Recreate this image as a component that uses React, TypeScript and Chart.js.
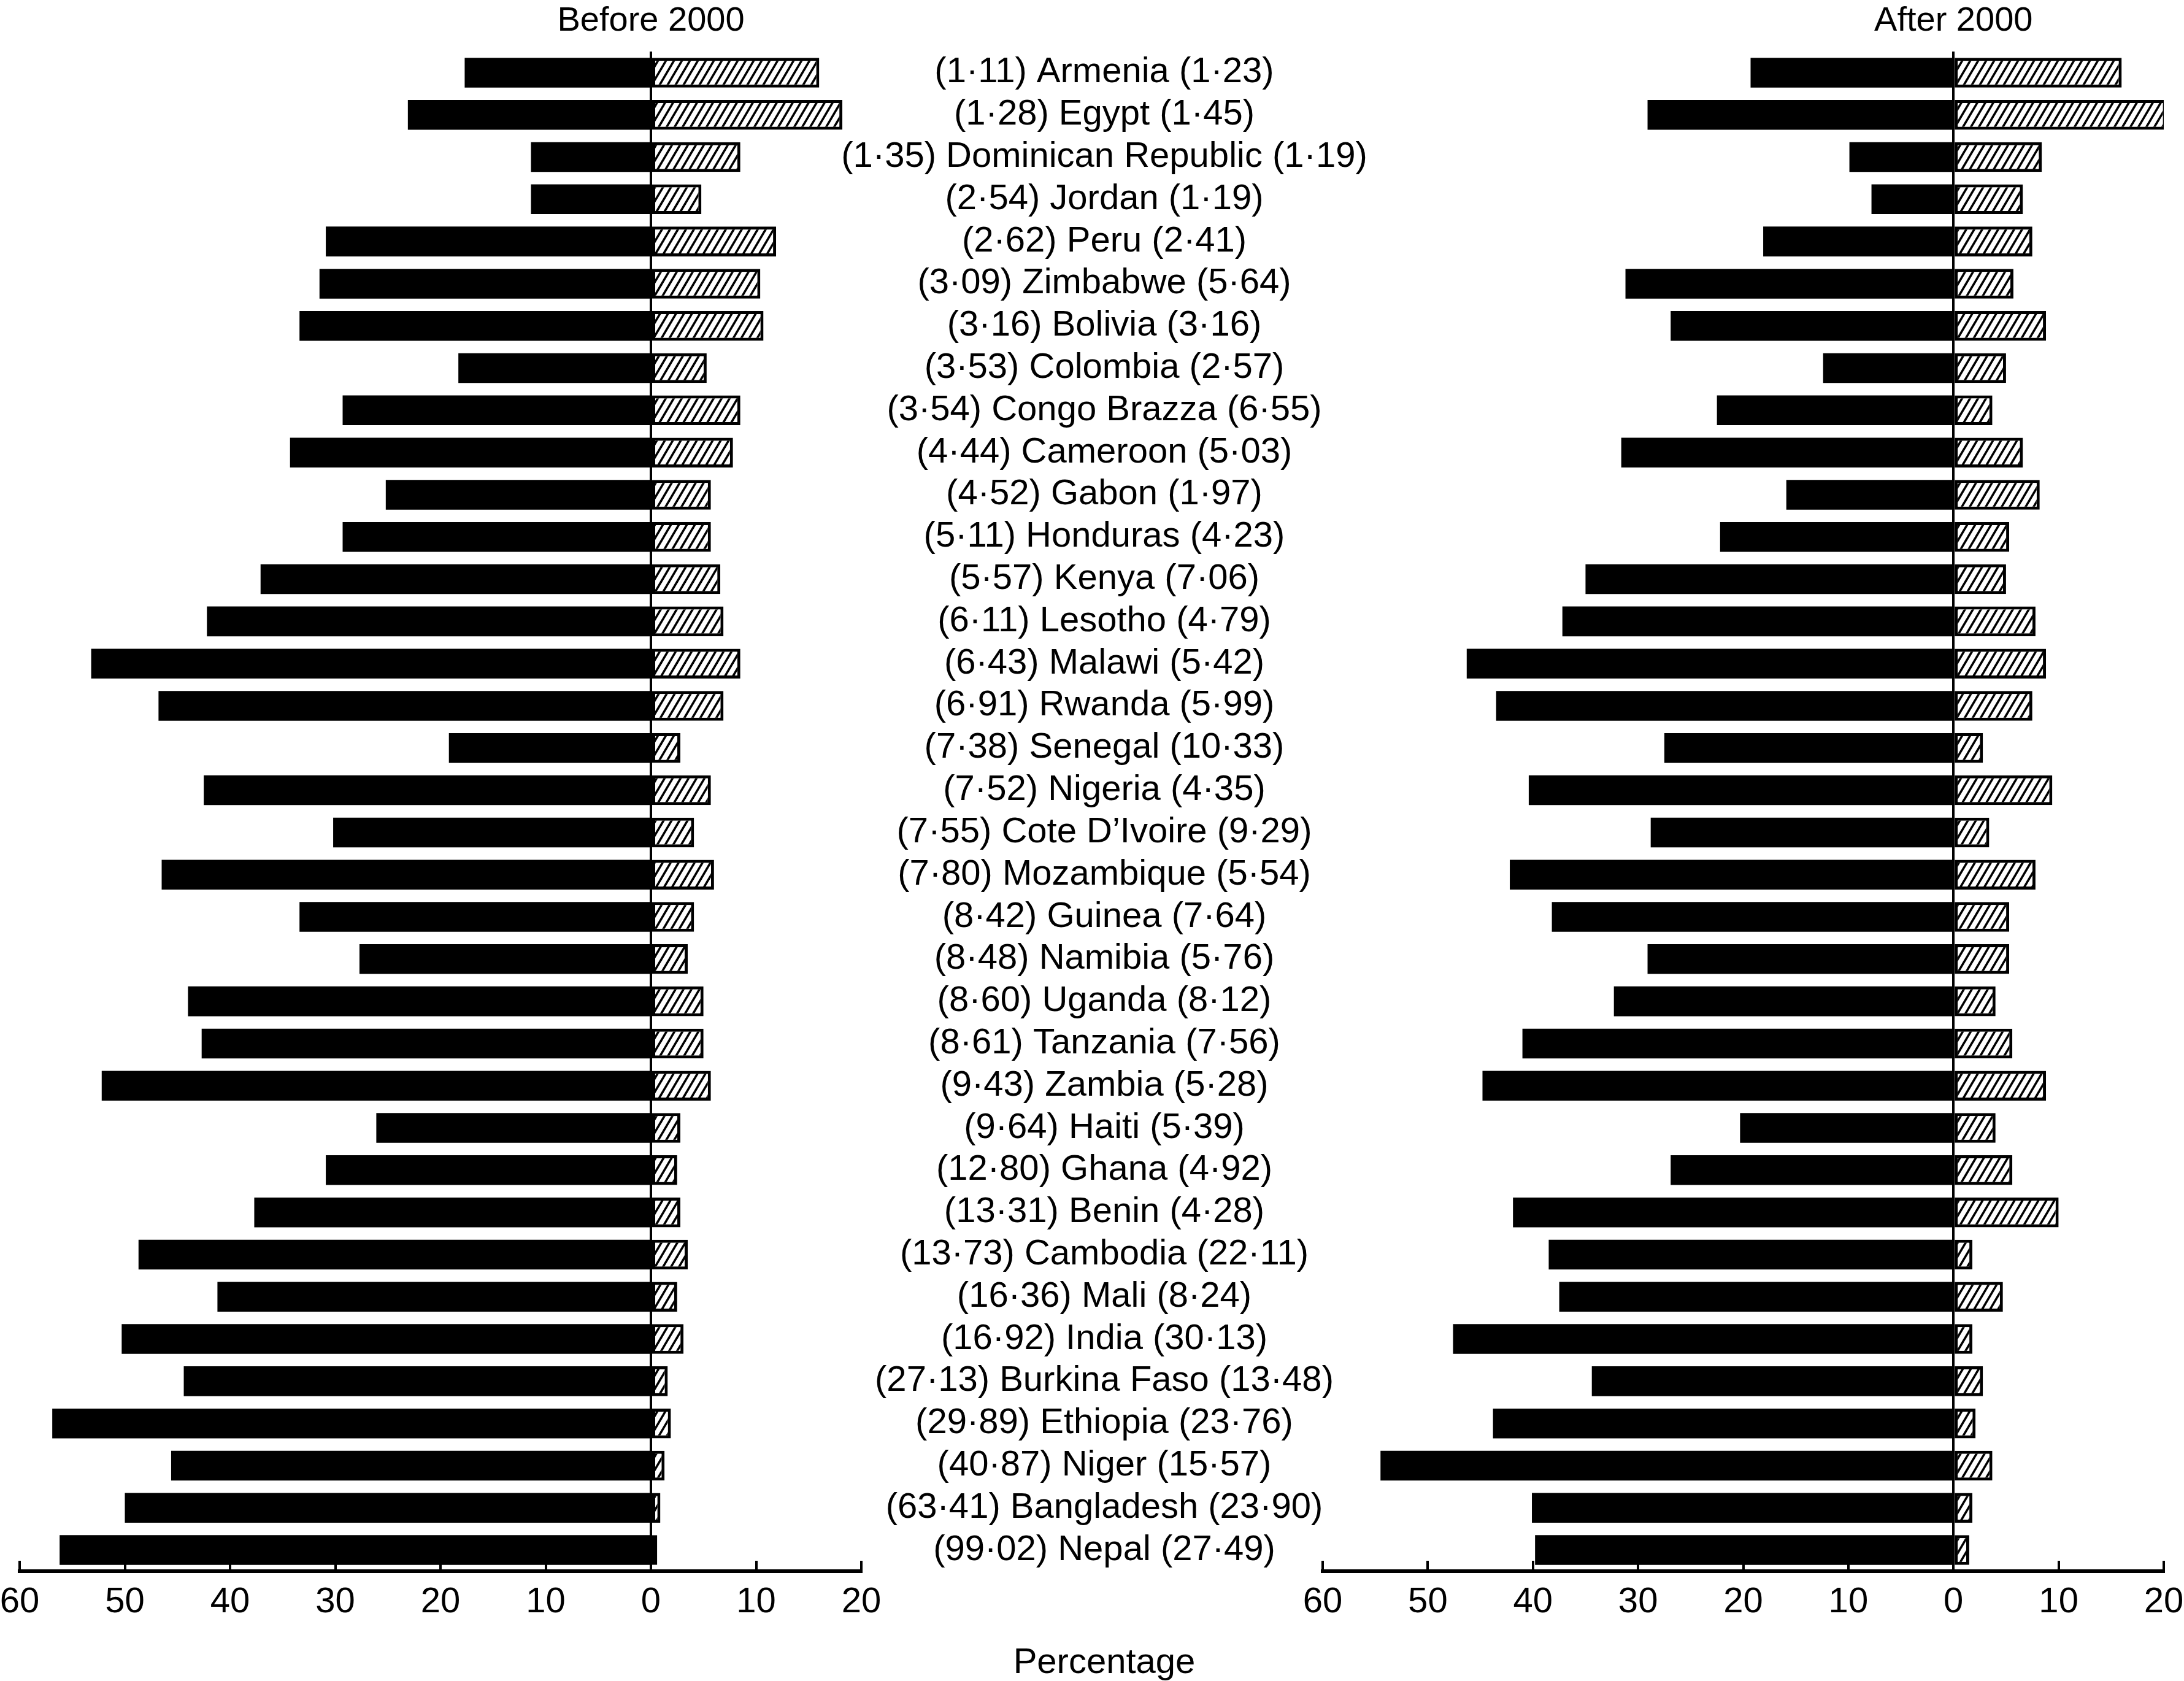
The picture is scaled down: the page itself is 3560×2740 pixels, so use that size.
import React, { useEffect, useRef } from 'react';
import { Chart, registerables } from 'chart.js';

Chart.register(...registerables);

const FONT = '"Liberation Sans", Arial, Helvetica, sans-serif';
const W = 3560;
const H = 2740;
const PLOT_BOTTOM = 2561;

const rowLabels = [
  '(1·11) Armenia (1·23)',
  '(1·28) Egypt (1·45)',
  '(1·35) Dominican Republic (1·19)',
  '(2·54) Jordan (1·19)',
  '(2·62) Peru (2·41)',
  '(3·09) Zimbabwe (5·64)',
  '(3·16) Bolivia (3·16)',
  '(3·53) Colombia (2·57)',
  '(3·54) Congo Brazza (6·55)',
  '(4·44) Cameroon (5·03)',
  '(4·52) Gabon (1·97)',
  '(5·11) Honduras (4·23)',
  '(5·57) Kenya (7·06)',
  '(6·11) Lesotho (4·79)',
  '(6·43) Malawi (5·42)',
  '(6·91) Rwanda (5·99)',
  '(7·38) Senegal (10·33)',
  '(7·52) Nigeria (4·35)',
  '(7·55) Cote D\u2019Ivoire (9·29)',
  '(7·80) Mozambique (5·54)',
  '(8·42) Guinea (7·64)',
  '(8·48) Namibia (5·76)',
  '(8·60) Uganda (8·12)',
  '(8·61) Tanzania (7·56)',
  '(9·43) Zambia (5·28)',
  '(9·64) Haiti (5·39)',
  '(12·80) Ghana (4·92)',
  '(13·31) Benin (4·28)',
  '(13·73) Cambodia (22·11)',
  '(16·36) Mali (8·24)',
  '(16·92) India (30·13)',
  '(27·13) Burkina Faso (13·48)',
  '(29·89) Ethiopia (23·76)',
  '(40·87) Niger (15·57)',
  '(63·41) Bangladesh (23·90)',
  '(99·02) Nepal (27·49)',
];

// Before 2000 — black bars (plotted to the left), hatched bars (to the right)
const beforeBlack = [
  17.7, 23.1, 11.4, 11.4, 30.9, 31.5, 33.4, 18.3, 29.3, 34.3, 25.2, 29.3,
  37.1, 42.2, 53.2, 46.8, 19.2, 42.5, 30.2, 46.5, 33.4, 27.7, 44.0, 42.7,
  52.2, 26.1, 30.9, 37.7, 48.7, 41.2, 50.3, 44.4, 56.9, 45.6, 50.0, 56.2,
];
const beforeHatched = [
  16.0, 18.2, 8.5, 4.8, 11.9, 10.4, 10.7, 5.3, 8.5, 7.8, 5.7, 5.7,
  6.6, 6.9, 8.5, 6.9, 2.8, 5.7, 4.1, 6.0, 4.1, 3.5, 5.0, 5.0,
  5.7, 2.8, 2.5, 2.8, 3.5, 2.5, 3.1, 1.6, 1.9, 1.3, 0.9, 0.6,
];

// After 2000
const afterBlack = [
  19.3, 29.1, 9.9, 7.8, 18.1, 31.2, 26.9, 12.4, 22.5, 31.6, 15.9, 22.2,
  35.0, 37.2, 46.3, 43.5, 27.5, 40.4, 28.8, 42.2, 38.2, 29.1, 32.3, 41.0,
  44.8, 20.3, 26.9, 41.9, 38.5, 37.5, 47.6, 34.4, 43.8, 54.5, 40.1, 39.8,
];
const afterHatched = [
  16.0, 20.2, 8.4, 6.6, 7.5, 5.7, 8.8, 5.0, 3.7, 6.6, 8.2, 5.3,
  5.0, 7.8, 8.8, 7.5, 2.8, 9.4, 3.4, 7.8, 5.3, 5.3, 4.0, 5.6,
  8.8, 4.0, 5.6, 10.0, 1.8, 4.7, 1.8, 2.8, 2.1, 3.7, 1.8, 1.5,
];

const xTickValues = [-60, -50, -40, -30, -20, -10, 0, 10, 20];
const panelTitles = ['Before 2000', 'After 2000'];
const axisTitle = 'Percentage';

function makeHatch(): CanvasPattern | string {
  const w = 13;
  const h = 22;
  const c = document.createElement('canvas');
  c.width = w;
  c.height = h;
  const g = c.getContext('2d');
  if (!g) return '#fff';
  g.fillStyle = '#fff';
  g.fillRect(0, 0, w, h);
  g.strokeStyle = '#000';
  g.lineWidth = 3.6;
  for (let k = -1; k <= 1; k++) {
    g.beginPath();
    g.moveTo(k * w - w, 2 * h);
    g.lineTo(k * w + 2 * w, -h);
    g.stroke();
  }
  return g.createPattern(c, 'repeat') || '#fff';
}

type PanelProps = {
  title: string;
  black: number[];
  hatched: number[];
  left: number;
  width: number;
  padLeft: number;
  padRight: number;
  showLabels?: boolean;
  labelX?: number;
};

function Panel(props: PanelProps) {
  const ref = useRef<HTMLCanvasElement>(null);

  useEffect(() => {
    const canvas = ref.current;
    if (!canvas) return;
    const hatch = makeHatch();

    const decor = {
      id: 'panelDecor',
      afterDatasetsDraw(chart: any) {
        const { ctx, chartArea, scales } = chart;
        const xs = scales.x;
        const ys = scales.y;
        ctx.save();
        // inward tick marks
        ctx.strokeStyle = '#000';
        ctx.lineWidth = 4;
        for (const t of xs.ticks) {
          const px = Math.round(xs.getPixelForValue(t.value));
          ctx.beginPath();
          ctx.moveTo(px, chartArea.bottom + 3);
          ctx.lineTo(px, chartArea.bottom - 17);
          ctx.stroke();
        }
        ctx.fillStyle = '#000';
        ctx.textAlign = 'center';
        ctx.textBaseline = 'alphabetic';
        ctx.font = `56px ${FONT}`;
        ctx.fillText(props.title, xs.getPixelForValue(0), 50);
        if (props.showLabels && props.labelX !== undefined) {
          ctx.font = `58px ${FONT}`;
          ctx.textBaseline = 'middle';
          rowLabels.forEach((lab, i) => {
            ctx.fillText(lab, props.labelX, ys.getPixelForValue(i));
          });
          ctx.textBaseline = 'alphabetic';
          ctx.fillText(axisTitle, props.labelX, 2727);
        }
        ctx.restore();
      },
    };

    const chart = new Chart(canvas, {
      type: 'bar',
      data: {
        labels: rowLabels,
        datasets: [
          {
            label: 'black',
            data: props.black.map((v) => -v),
            backgroundColor: '#000',
            borderWidth: 0,
          },
          {
            label: 'hatched',
            data: props.hatched,
            backgroundColor: hatch as any,
            borderColor: '#000',
            borderWidth: 5,
            borderSkipped: false,
          },
        ],
      },
      options: {
        indexAxis: 'y',
        responsive: false,
        animation: false,
        devicePixelRatio: 1,
        layout: { padding: { left: props.padLeft, right: props.padRight, top: 84, bottom: 0 } },
        datasets: { bar: { barPercentage: 0.705, categoryPercentage: 1 } },
        plugins: {
          legend: { display: false },
          tooltip: { enabled: false },
          title: { display: false },
        },
        scales: {
          x: {
            type: 'linear',
            min: -60,
            max: 20,
            stacked: true,
            afterBuildTicks: (s: any) => {
              s.ticks = xTickValues.map((v) => ({ value: v }));
            },
            afterFit: (s: any) => {
              s.height = H - PLOT_BOTTOM;
              s.paddingLeft = 0;
              s.paddingRight = 0;
            },
            ticks: {
              font: { family: FONT, size: 58 },
              color: '#000',
              padding: 16,
              maxRotation: 0,
              minRotation: 0,
              autoSkip: false,
              callback: (v: any) => String(Math.abs(Number(v))),
            },
            grid: {
              drawTicks: false,
              color: (c: any) => (c.tick && c.tick.value === 0 ? '#000' : 'rgba(0,0,0,0)'),
              lineWidth: 4,
            },
            border: { display: true, color: '#000', width: 6 },
          },
          y: { type: 'category', stacked: true, display: false, offset: true },
        },
      } as any,
      plugins: [decor],
    });

    return () => chart.destroy();
  }, []);

  return (
    <canvas
      ref={ref}
      width={props.width}
      height={H}
      style={{ position: 'absolute', left: props.left, top: 0, width: props.width, height: H }}
    />
  );
}

export default function App() {
  return (
    <div
      style={{
        position: 'absolute',
        left: 0,
        top: 0,
        width: W,
        height: H,
        background: '#fff',
        overflow: 'hidden',
      }}
    >
      <Panel
        title={panelTitles[0]}
        black={beforeBlack}
        hatched={beforeHatched}
        left={0}
        width={2300}
        padLeft={32}
        padRight={2300 - 1404}
        showLabels
        labelX={1800}
      />
      <Panel
        title={panelTitles[1]}
        black={afterBlack}
        hatched={afterHatched}
        left={2100}
        width={1460}
        padLeft={56}
        padRight={33}
      />
    </div>
  );
}
